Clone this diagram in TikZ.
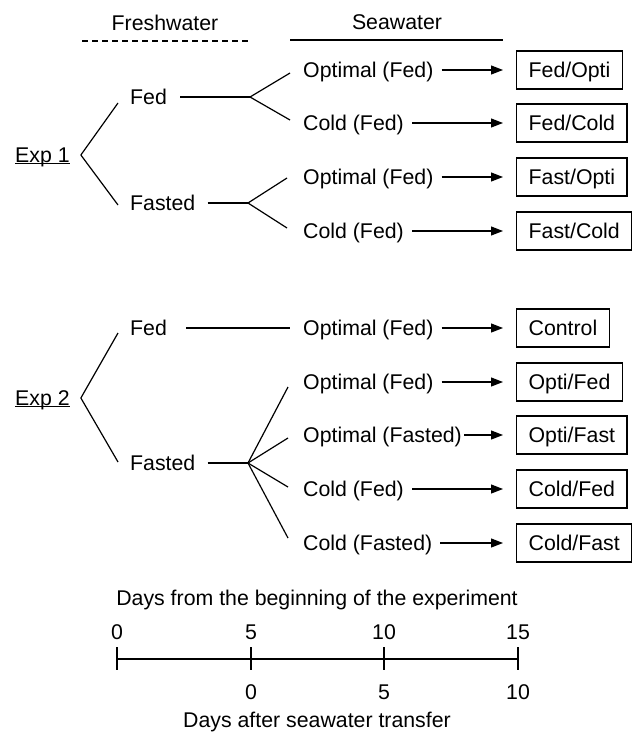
\documentclass[tikz,border=0pt]{standalone}
\usepackage{fontspec}
\setmainfont{Liberation Sans}
\usepackage{tikz}
\usetikzlibrary{arrows.meta}

\begin{document}
\begin{tikzpicture}[
    x=1pt, y=-1pt,
    every node/.style={font=\fontsize{21.3}{25}\selectfont, inner sep=0pt,
                       text height=15.3pt, text depth=0pt},
    lbl/.style={anchor=west},
    grp/.style={rectangle, draw, line width=1.3pt, anchor=west,
                minimum height=38pt, inner xsep=12pt},
    ln/.style={line width=1.2pt},
    arr/.style={ln, -{Triangle[length=12pt, width=9pt]},
                shorten <=8pt, shorten >=13pt},
]
    \useasboundingbox (0,0) rectangle (635,733);

    \node (fw) at (165,23) {Freshwater};
    \node (sw) at (397,22) {Seawater};
    \draw[ln, dash pattern=on 6pt off 4pt] (82,41) -- (250,41);
    \draw[ln] (290,40) -- (503,40);

    % Exp 1
    \node[lbl] (exp1) at (15,155) {Exp 1};
    \draw[ln] ([yshift=-1pt]exp1.south west) -- ([yshift=-1pt]exp1.south east);
    \coordinate (v1) at ([xshift=11pt]exp1.east);

    \node[lbl] (fed1) at (130,97) {Fed};
    \node[lbl] (fast1) at (130,203) {Fasted};
    \draw[ln] (v1) -- ([shift={(-12pt,-6pt)}]fed1.west);
    \draw[ln] (v1) -- ([shift={(-12pt,-2pt)}]fast1.west);

    \node[lbl] (o1) at (303,70) {Optimal (Fed)};
    \node[lbl] (o2) at (303,123) {Cold (Fed)};
    \node[lbl] (o3) at (303,177) {Optimal (Fed)};
    \node[lbl] (o4) at (303,231) {Cold (Fed)};

    \coordinate (j1) at (250,97);
    \draw[ln] ([xshift=13pt]fed1.east) -- (j1);
    \draw[ln] (j1) -- ([shift={(-13pt,-3pt)}]o1.west);
    \draw[ln] (j1) -- ([shift={(-13pt,3pt)}]o2.west);

    \coordinate (j2) at (248,203);
    \draw[ln] ([xshift=12pt]fast1.east) -- (j2);
    \draw[ln] (j2) -- ([shift={(-16pt,-1pt)}]o3.west);
    \draw[ln] (j2) -- ([shift={(-16pt,3pt)}]o4.west);

    \node[grp] (g1) at (516,70) {Fed/Opti};
    \node[grp] (g2) at (516,123) {Fed/Cold};
    \node[grp] (g3) at (516,177) {Fast/Opti};
    \node[grp] (g4) at (516,231) {Fast/Cold};

    \draw[arr] (o1) -- (g1);
    \draw[arr] (o2) -- (g2);
    \draw[arr] (o3) -- (g3);
    \draw[arr] (o4) -- (g4);

    % Exp 2
    \node[lbl] (exp2) at (15,398) {Exp 2};
    \draw[ln] ([yshift=-1pt]exp2.south west) -- ([yshift=-1pt]exp2.south east);
    \coordinate (v2) at ([xshift=11pt]exp2.east);

    \node[lbl] (fed2) at (130,328) {Fed};
    \node[lbl] (fast2) at (130,463) {Fasted};
    \draw[ln] (v2) -- ([shift={(-12pt,-5pt)}]fed2.west);
    \draw[ln] (v2) -- ([shift={(-12pt,1pt)}]fast2.west);

    \node[lbl] (o5) at (303,328) {Optimal (Fed)};
    \node[lbl] (o6) at (303,382) {Optimal (Fed)};
    \node[lbl] (o7) at (303,435) {Optimal (Fasted)};
    \node[lbl] (o8) at (303,489) {Cold (Fed)};
    \node[lbl] (o9) at (303,543) {Cold (Fasted)};

    \draw[ln] ([xshift=19pt]fed2.east) -- ([xshift=-13pt]o5.west);

    \coordinate (j3) at (248,463);
    \draw[ln] ([xshift=12pt]fast2.east) -- (j3);
    \foreach \r/\dy in {o6/-5, o7/-3, o8/2, o9/5}
        \draw[ln] (j3) -- ([shift={(-15pt,\dy pt)}]\r.west);

    \node[grp] (g5) at (516,328) {Control};
    \node[grp] (g6) at (516,382) {Opti/Fed};
    \node[grp] (g7) at (516,435) {Opti/Fast};
    \node[grp] (g8) at (516,489) {Cold/Fed};
    \node[grp] (g9) at (516,543) {Cold/Fast};

    \draw[arr] (o5) -- (g5);
    \draw[arr] (o6) -- (g6);
    \draw[arr, shorten <=2pt] (o7) -- (g7);
    \draw[arr] (o8) -- (g8);
    \draw[arr] (o9) -- (g9);

    % time line
    \node (days1) at (317,598) {Days from the beginning of the experiment};
    \draw[ln] (117,659) -- (518,659);
    \foreach \x/\t in {117/0, 251/5, 384/10, 518/15} {
        \draw[ln] (\x,647) -- (\x,670);
        \node (top\t) at (\x,632) {\t};
    }
    \foreach \x/\t in {251/0, 384/5, 518/10}
        \node (bot\t) at (\x,692) {\t};
    \node (days2) at (317,720) {Days after seawater transfer};
\end{tikzpicture}
\end{document}
